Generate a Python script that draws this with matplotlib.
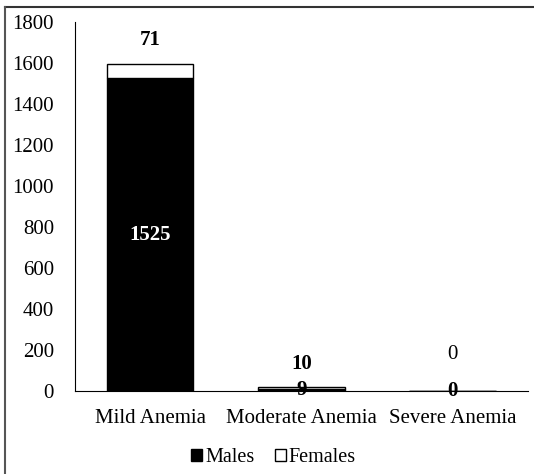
import numpy as np
import matplotlib.pyplot as plt
from matplotlib.lines import Line2D

categories = ['Mild Anemia', 'Moderate Anemia', 'Severe Anemia']
males = [1525, 9, 0]
females = [71, 10, 0]

plt.rcParams['font.family'] = ['Liberation Serif', 'DejaVu Serif']
plt.rcParams['font.size'] = 15

fig = plt.figure(figsize=(5.34, 4.74), dpi=100)
ax = fig.add_axes([0.140, 0.175, 0.849, 0.779])

x = np.arange(len(categories))
w = 0.57
ax.bar(x, males, w, color='black', edgecolor='black', linewidth=1, label='Males')
ax.bar(x, females, w, bottom=males, color='white', edgecolor='black',
       linewidth=1, label='Females')

# value labels: males inside the bar, females above the stack
for i in range(len(categories)):
    if males[i] > 100:
        ax.text(x[i], males[i] / 2, str(males[i]), ha='center', va='center',
                color='white', fontweight='bold')
    else:
        ax.text(x[i], males[i] / 2, str(males[i]), ha='center', va='center',
                color='black', fontweight='bold')
    top = males[i] + females[i]
    if females[i] > 0:
        ax.text(x[i], top + 65, str(females[i]), ha='center', va='bottom',
                fontweight='bold')
    else:
        ax.text(x[i], top + 130, str(females[i]), ha='center', va='bottom')

ax.set_xlim(-0.5, 2.5)
ax.set_ylim(0, 1800)
ax.set_yticks(range(0, 1801, 200))
ax.set_xticks(x)
ax.set_xticklabels(categories)
ax.tick_params(axis='y', length=0, pad=15)
ax.tick_params(axis='x', length=0, pad=13)
for s in ['top', 'right']:
    ax.spines[s].set_visible(False)

handles, labels = ax.get_legend_handles_labels()
fig.legend(handles, labels, loc='center', bbox_to_anchor=(0.512, 0.034), ncol=2,
           frameon=False, fontsize=14.5, handlelength=0.55, handleheight=0.55,
           handletextpad=0.15, columnspacing=1.0)

# frame lines along the top and left edges
fig.add_artist(Line2D([0.010, 1.0], [0.986, 0.986], transform=fig.transFigure,
                      color='#333333', linewidth=1.5))
fig.add_artist(Line2D([0.010, 0.010], [0.0, 0.986], transform=fig.transFigure,
                      color='#555555', linewidth=1.5))

fig.savefig('out.png', dpi=100)
